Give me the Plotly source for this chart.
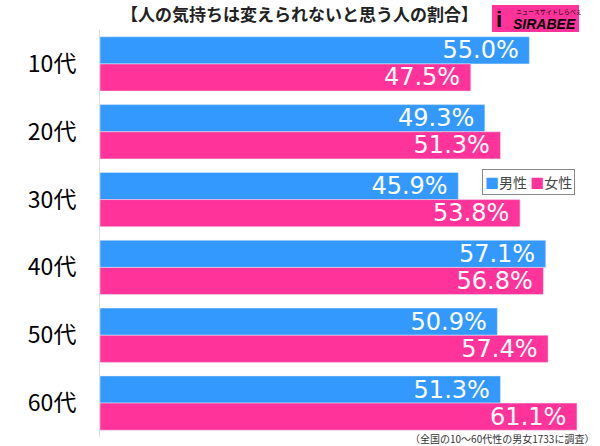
import plotly.graph_objects as go

categories = ["10代", "20代", "30代", "40代", "50代", "60代"]
male = [55.0, 49.3, 45.9, 57.1, 50.9, 51.3]
female = [47.5, 51.3, 53.8, 56.8, 57.4, 61.1]
title = "【人の気持ちは変えられないと思う人の割合】"
note = "（全国の10～60代性の男女1733に調査）"

BLUE = "#3399FF"
PINK = "#FF3399"
font = "Noto Sans CJK JP"
PT, PB = 30, 437  # plot top / bottom in px
H = PB - PT


def py(px):
    return 1 - (px - PT) / H


def pxx(px):
    return (px - 100) / 500


fig = go.Figure()
for vals, name, col in [(male, "男性", BLUE), (female, "女性", PINK)]:
    fig.add_trace(go.Bar(
        y=categories, x=vals, name=name, orientation="h", marker_color=col,
        text=[f"{v:.1f}%&nbsp;" for v in vals], textposition="inside", insidetextanchor="end",
        constraintext="none", cliponaxis=False,
        textfont=dict(color="white", size=24, family="DejaVu Sans"),
    ))

fig.update_layout(
    width=600, height=446,
    margin=dict(l=100, r=0, t=PT, b=446 - PB, autoexpand=False),
    barmode="group", bargap=0.2, bargroupgap=0,
    plot_bgcolor="white", paper_bgcolor="white",
    font=dict(family=font),
    showlegend=False,
    uniformtext=dict(minsize=8, mode="show"),
)
fig.update_xaxes(range=[0, 64.05], visible=False, showgrid=False)
fig.update_yaxes(
    autorange="reversed", showgrid=False, showline=True, linecolor="#dddddd", linewidth=1,
    ticks="", ticklabelstandoff=18,
    tickfont=dict(size=23, color="black", family=font),
)

# legend box
fig.add_annotation(
    text=f"<span style='color:{BLUE}'>■</span>男性 <span style='color:{PINK}'>■</span>女性",
    xref="paper", yref="paper", x=pxx(528), y=py(182), showarrow=False,
    xanchor="center", yanchor="middle",
    bordercolor="#888888", borderwidth=1, borderpad=2, bgcolor="white",
    font=dict(size=14, color="#444444", family=font),
)

fig.add_annotation(
    text=f"<b>{title}</b>", xref="paper", yref="paper", x=pxx(299), y=py(14),
    showarrow=False, font=dict(size=17, color="#222222", family=font), xanchor="center", yanchor="middle",
)
fig.add_annotation(
    text=note, xref="paper", yref="paper", x=pxx(596), y=py(439),
    showarrow=False, font=dict(size=10, color="#333333", family=font), xanchor="right", yanchor="middle",
)
# logo
fig.add_shape(type="rect", xref="paper", yref="paper",
              x0=pxx(492), x1=pxx(579), y0=py(32), y1=py(5),
              fillcolor=PINK, line=dict(width=0), layer="above")
fig.add_annotation(text="<b><i>SIRABEE</i></b>", xref="paper", yref="paper",
                   x=pxx(544), y=py(24), showarrow=False,
                   font=dict(size=14, color="black", family="Liberation Sans"), xanchor="center", yanchor="middle")
fig.add_annotation(text="ニュースサイトしらべぇ", xref="paper", yref="paper",
                   x=pxx(549), y=py(12), showarrow=False,
                   font=dict(size=6, color="black", family=font), xanchor="center", yanchor="middle")
fig.add_annotation(text="<b>i</b>", xref="paper", yref="paper",
                   x=pxx(499), y=py(19), showarrow=False,
                   font=dict(size=22, color="black", family="Liberation Sans"), xanchor="center", yanchor="middle")

fig.write_html("out.html")
